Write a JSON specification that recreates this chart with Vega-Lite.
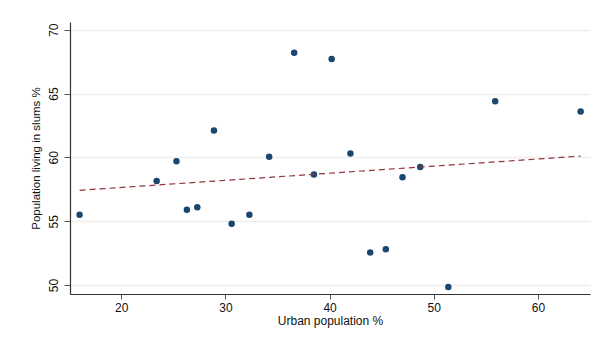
{
  "$schema": "https://vega.github.io/schema/vega-lite/v6.json",
  "width": 520,
  "height": 272,
  "autosize": {"type": "none"},
  "padding": {"left": 70, "top": 22, "right": 24, "bottom": 50},
  "background": "white",
  "config": {
    "view": {"stroke": null},
    "font": "Liberation Sans",
    "axis": {"labelFont": "Liberation Sans", "titleFont": "Liberation Sans", "titleFontWeight": "normal"}
  },
  "datasets": {
    "pts": [
      {"urban": 16.0, "slums": 55.5},
      {"urban": 23.4, "slums": 58.15},
      {"urban": 25.3, "slums": 59.7},
      {"urban": 26.3, "slums": 55.9},
      {"urban": 27.3, "slums": 56.1},
      {"urban": 28.9, "slums": 62.1},
      {"urban": 30.6, "slums": 54.8},
      {"urban": 32.3, "slums": 55.5},
      {"urban": 34.2, "slums": 60.05},
      {"urban": 36.6, "slums": 68.2},
      {"urban": 38.5, "slums": 58.65},
      {"urban": 40.2, "slums": 67.7},
      {"urban": 42.0, "slums": 60.3},
      {"urban": 43.9, "slums": 52.55},
      {"urban": 45.4, "slums": 52.8},
      {"urban": 47.0, "slums": 58.45},
      {"urban": 48.7, "slums": 59.25},
      {"urban": 51.4, "slums": 49.85},
      {"urban": 55.9, "slums": 64.4},
      {"urban": 64.1, "slums": 63.6}
    ],
    "fit": [
      {"urban": 16.0, "fitted": 57.42},
      {"urban": 64.1, "fitted": 60.1}
    ]
  },
  "layer": [
    {
      "data": {"name": "pts"},
      "mark": {"type": "point", "filled": true, "shape": "circle", "size": 42, "color": "#1a476f", "opacity": 1},
      "encoding": {
        "x": {
          "field": "urban", "type": "quantitative",
          "scale": {"domain": [15.08, 65], "nice": false, "zero": false},
          "axis": {
            "title": "Urban population %",
            "values": [20, 30, 40, 50, 60],
            "grid": false,
            "domainColor": "#333333",
            "domainWidth": 1.2,
            "tickColor": "#555555",
            "tickSize": 5,
            "labelFontSize": 12,
            "labelColor": "#111111",
            "labelPadding": 3,
            "titleFontSize": 12,
            "titleColor": "#111111",
            "titlePadding": 2
          }
        },
        "y": {
          "field": "slums", "type": "quantitative",
          "scale": {"domain": [49.3, 70.6], "nice": false, "zero": false},
          "axis": {
            "title": "Population living in slums %",
            "values": [50, 55, 60, 65, 70],
            "grid": true,
            "gridColor": "#eeeeee",
            "gridWidth": 1.5,
            "domainColor": "#333333",
            "domainWidth": 1.2,
            "tickColor": "#555555",
            "tickSize": 6,
            "labelAngle": -90,
            "labelAlign": "center",
            "labelBaseline": "bottom",
            "labelFontSize": 12,
            "labelColor": "#111111",
            "labelPadding": 4,
            "titleFontSize": 11.5,
            "titleColor": "#111111",
            "titlePadding": 6
          }
        }
      }
    },
    {
      "data": {"name": "fit"},
      "mark": {"type": "line", "color": "#90353b", "strokeWidth": 1.2, "strokeDash": [6, 4]},
      "encoding": {
        "x": {"field": "urban", "type": "quantitative"},
        "y": {"field": "fitted", "type": "quantitative"}
      }
    }
  ]
}
